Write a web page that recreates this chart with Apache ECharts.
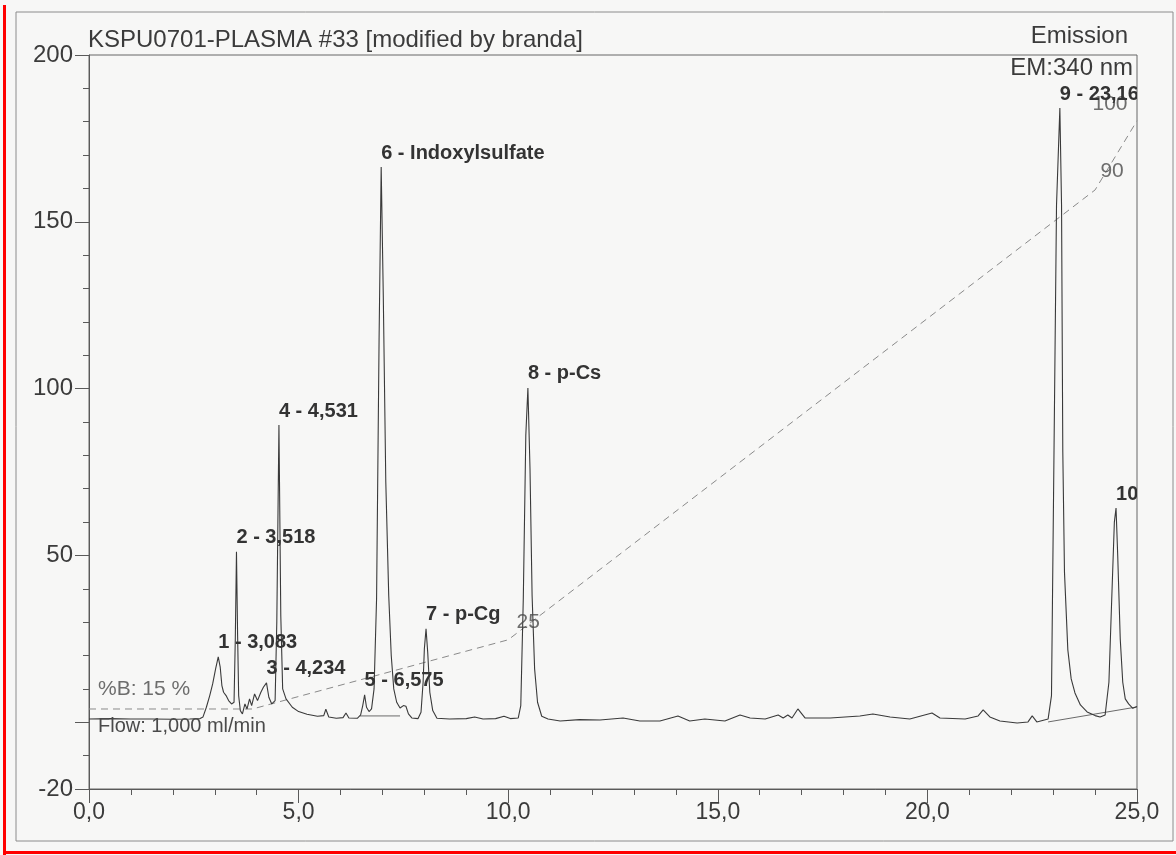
<!DOCTYPE html>
<html>
<head>
<meta charset="utf-8">
<script src="https://cdn.jsdelivr.net/npm/echarts@6/dist/echarts.min.js"></script>
<style>
  html, body { margin: 0; padding: 0; background: #f7f7f6; }
  #chart { width: 1176px; height: 855px; }
</style>
</head>
<body>
<div id="chart"></div>
<script>
// Fluorescence chromatogram, KSPU0701-PLASMA #33 (EM 340 nm)

// Detector trace: retention time (min) and signal
const traceTime = [
  0.00, 0.50, 1.00, 1.50, 2.00, 2.40, 2.65, 2.72, 2.80, 2.88, 2.95, 3.02, 3.083, 3.13, 3.17, 3.21,
  3.27, 3.33, 3.40, 3.46, 3.49, 3.518, 3.545, 3.57, 3.61, 3.66, 3.72, 3.77, 3.83, 3.88, 3.95, 4.02,
  4.10, 4.16, 4.234, 4.29, 4.36, 4.44, 4.48, 4.531, 4.575, 4.62, 4.70, 4.85, 5.00, 5.20, 5.45, 5.60,
  5.65, 5.72, 5.90, 6.06, 6.13, 6.20, 6.40, 6.48, 6.53, 6.575, 6.62, 6.68, 6.74, 6.80, 6.86, 6.92,
  6.97, 7.02, 7.08, 7.15, 7.21, 7.27, 7.34, 7.42, 7.50, 7.56, 7.62, 7.70, 7.85, 7.92, 7.97, 8.00,
  8.04, 8.08, 8.13, 8.20, 8.30, 8.60, 9.00, 9.20, 9.40, 9.70, 9.90, 10.05, 10.24, 10.30, 10.36, 10.42,
  10.47, 10.52, 10.57, 10.63, 10.70, 10.80, 10.95, 11.24, 11.70, 12.19, 12.74, 13.14, 13.62, 14.05, 14.33, 14.69,
  15.17, 15.53, 15.77, 16.13, 16.44, 16.56, 16.67, 16.77, 16.91, 17.08, 17.68, 18.39, 18.70, 19.11, 19.58, 20.11,
  20.30, 20.90, 21.21, 21.33, 21.49, 21.73, 22.14, 22.40, 22.50, 22.61, 22.88, 22.96, 23.02, 23.08, 23.16, 23.20,
  23.23, 23.27, 23.35, 23.43, 23.52, 23.65, 23.81, 24.00, 24.12, 24.24, 24.33, 24.40, 24.46, 24.50, 24.54, 24.60,
  24.66, 24.72, 24.80, 24.90, 25.00
];
const traceSignal = [
  1.0, 1.1, 1.0, 1.0, 0.9, 1.0, 1.1, 1.6, 4.5, 8.0, 11.5, 16.0, 19.6, 16.5, 11.0, 9.0,
  8.0, 6.5, 5.5, 6.0, 25.0, 51.1, 26.0, 8.0, 3.5, 2.5, 5.5, 4.0, 7.0, 5.0, 8.5, 6.5,
  9.0, 10.5, 11.8, 7.5, 5.5, 6.5, 30.0, 89.1, 32.0, 10.0, 7.0, 4.5, 3.2, 2.4, 1.8, 2.0,
  3.9, 1.6, 1.2, 1.4, 2.8, 1.3, 1.2, 2.2, 5.0, 8.2, 4.5, 3.2, 4.0, 10.0, 37.0, 115.0,
  166.4, 128.0, 72.0, 38.0, 20.0, 10.0, 6.0, 4.3, 5.0, 4.8, 2.5, 1.3, 1.1, 3.0, 12.0, 22.0,
  28.0, 21.0, 9.0, 3.5, 1.2, 1.0, 1.1, 1.6, 1.0, 1.1, 1.8, 1.1, 1.3, 5.0, 37.0, 86.0,
  100.2, 76.0, 38.0, 16.0, 6.0, 1.8, 1.0, 0.4, 0.8, 0.7, 1.3, 0.4, 0.4, 1.9, 0.4, 1.0,
  0.4, 2.2, 1.3, 1.0, 2.2, 1.3, 2.2, 1.3, 4.0, 1.3, 1.3, 1.9, 2.5, 1.6, 1.0, 2.8,
  1.3, 1.0, 1.9, 3.7, 1.6, 0.4, -0.2, 0.1, 1.9, 0.1, 1.0, 8.0, 81.0, 155.0, 184.1, 155.0,
  81.0, 45.0, 21.7, 13.0, 8.8, 5.2, 3.1, 2.0, 1.6, 2.2, 12.0, 38.0, 60.0, 64.2, 50.0, 25.0,
  12.0, 7.0, 5.5, 4.2, 4.7
];

// Integrated peaks
const peakLabels = ['1 - 3,083', '2 - 3,518', '3 - 4,234', '4 - 4,531', '5 - 6,575',
  '6 - Indoxylsulfate', '7 - p-Cg', '8 - p-Cs', '9 - 23,16', '10 - 24,50'];
const peakTimes = [3.083, 3.518, 4.234, 4.531, 6.575, 6.97, 8.04, 10.47, 23.16, 24.50];
const peakHeights = [19.6, 51.1, 11.8, 89.1, 8.2, 166.4, 28.0, 100.2, 184.1, 64.2];

// Integration baselines drawn under peak groups
const baselineTimes = [[6.46, 7.42], [22.88, 25.0]];
const baselineSignals = [[1.9, 1.9], [0.1, 4.6]];

// Gradient program (%B)
const gradTime = [0, 3.9, 10.0, 24.0, 25.0];
const gradB = [15, 15, 25, 90, 100];

// Axis tick labels
const yLabelValues = [-20, 50, 100, 150, 200];
const yLongTicks = [-20, 0, 50, 100, 150, 200];
const xLabelValues = [0, 5, 10, 15, 20, 25];

const FONT = "'Liberation Sans', Arial, sans-serif";
const INK = '#3b3b3b';
const LINE = '#5a5a5a';

const chart = echarts.init(document.getElementById('chart'), null, { renderer: 'canvas' });

const traceData = traceTime.map((t, i) => [t, traceSignal[i]]);
const peakData = peakTimes.map((t, i) => [t, peakHeights[i]]);

// label placements for gradient annotations (pixel offsets from each point)
const gradLabelOffsets = { 0: [9, -1], 2: [20, 1], 3: [17, 0], 4: [-27, 2] };
const gradLabelData = [];
gradTime.forEach((t, i) => {
  if (!(i in gradLabelOffsets)) return;
  const off = gradLabelOffsets[i];
  gradLabelData.push({
    value: [t, gradB[i]],
    label: {
      show: true,
      formatter: i === 0 ? '%B: ' + gradB[i] + ' %' : String(gradB[i]),
      position: 'top',
      align: i === 0 ? 'left' : 'center',
      offset: off,
      distance: 8
    }
  });
});

const baselineSeries = baselineTimes.map((ts, k) => ({
  type: 'line',
  xAxisIndex: 0,
  yAxisIndex: 0,
  data: ts.map((t, j) => [t, baselineSignals[k][j]]),
  showSymbol: false,
  silent: true,
  lineStyle: { color: '#6a6a6a', width: 1 },
  z: 2
}));

const option = {
  backgroundColor: '#f7f7f6',
  animation: false,
  textStyle: { fontFamily: FONT },
  grid: {
    left: 89, right: 39, top: 55, bottom: 66,
    show: true, borderColor: '#666', borderWidth: 1, backgroundColor: 'transparent'
  },
  xAxis: [
    {
      type: 'value', min: 0, max: 25, interval: 1,
      axisLine: { show: true, onZero: false, lineStyle: { color: LINE, width: 1 } },
      axisTick: { show: true, length: 6, lineStyle: { color: LINE } },
      axisLabel: { show: false },
      splitLine: { show: false }
    },
    {
      type: 'value', min: 0, max: 25, interval: 5, position: 'bottom',
      axisLine: { show: false, onZero: false },
      axisTick: { show: true, length: 14, lineStyle: { color: LINE } },
      axisLabel: {
        show: true, margin: 12, color: INK, fontSize: 23, fontFamily: FONT,
        formatter: v => xLabelValues.includes(v) ? v.toFixed(1).replace('.', ',') : ''
      },
      splitLine: { show: false }
    }
  ],
  yAxis: [
    {
      type: 'value', min: -20, max: 200, interval: 10, position: 'left',
      axisLine: { show: true, onZero: false, lineStyle: { color: LINE, width: 1 } },
      axisTick: { show: true, length: 6, lineStyle: { color: LINE } },
      axisLabel: { show: false },
      splitLine: { show: false }
    },
    {
      type: 'value', min: -20, max: 200, position: 'left',
      axisLine: { show: false, onZero: false },
      axisTick: { show: true, length: 14, customValues: yLongTicks, lineStyle: { color: LINE } },
      axisLabel: {
        show: true, margin: 16, color: INK, fontSize: 24, fontFamily: FONT,
        customValues: yLabelValues
      },
      splitLine: { show: false }
    },
    {
      type: 'value', min: 3.44, max: 109.5, show: false
    }
  ],
  graphic: [
    { type: 'rect', shape: { x: 16, y: 12, width: 1157, height: 829 },
      style: { fill: 'none', stroke: '#8c8c8c', lineWidth: 1 }, z: -1, silent: true },
    { type: 'rect', shape: { x: 3, y: 5, width: 3, height: 850 }, style: { fill: '#ff0000' }, silent: true },
    { type: 'rect', shape: { x: 3, y: 851, width: 1173, height: 3 }, style: { fill: '#ff0000' }, silent: true },
    { type: 'text', x: 88, y: 40,
      style: { text: 'KSPU0701-PLASMA #33 [modified by branda]', fill: INK,
        font: '24px ' + FONT, align: 'left', verticalAlign: 'middle' } },
    { type: 'text', x: 1128, y: 36,
      style: { text: 'Emission', fill: INK, font: '24px ' + FONT, align: 'right', verticalAlign: 'middle' } },
    { type: 'text', x: 1133, y: 68,
      style: { text: 'EM:340 nm', fill: INK, font: '24px ' + FONT, align: 'right', verticalAlign: 'middle' }, z: 10 },
    { type: 'text', x: 98, y: 726,
      style: { text: 'Flow: 1,000 ml/min', fill: '#4a4a4a', font: '20px ' + FONT, align: 'left', verticalAlign: 'middle' }, z: 10 }
  ],
  series: [
    {
      name: 'gradient',
      type: 'line',
      xAxisIndex: 0, yAxisIndex: 2,
      data: gradTime.map((t, i) => [t, gradB[i]]),
      showSymbol: false, silent: true,
      lineStyle: { color: '#8a8a8a', width: 1, type: [7, 5] },
      z: 1
    },
    {
      name: 'gradient labels',
      type: 'scatter',
      xAxisIndex: 0, yAxisIndex: 2,
      symbolSize: 0, silent: true,
      data: gradLabelData,
      label: { color: '#4a4a4a', fontSize: 21, fontFamily: FONT },
      z: 5
    },
    ...baselineSeries,
    {
      name: 'EM 340 nm',
      type: 'line',
      xAxisIndex: 0, yAxisIndex: 0,
      data: traceData,
      showSymbol: false, silent: true,
      lineStyle: { color: '#3a3a3a', width: 1.1 },
      z: 3
    },
    {
      name: 'peak labels',
      type: 'custom',
      xAxisIndex: 0, yAxisIndex: 0,
      clip: true,
      silent: true,
      data: peakData,
      renderItem: (params, api) => {
        const p = api.coord([api.value(0), api.value(1)]);
        return {
          type: 'text',
          x: p[0], y: p[1] - 4,
          style: {
            text: peakLabels[params.dataIndex],
            fill: '#333',
            font: 'bold 20px ' + FONT,
            align: 'left',
            verticalAlign: 'bottom'
          }
        };
      },
      z: 6
    }
  ]
};

chart.setOption(option);
</script>
</body>
</html>
